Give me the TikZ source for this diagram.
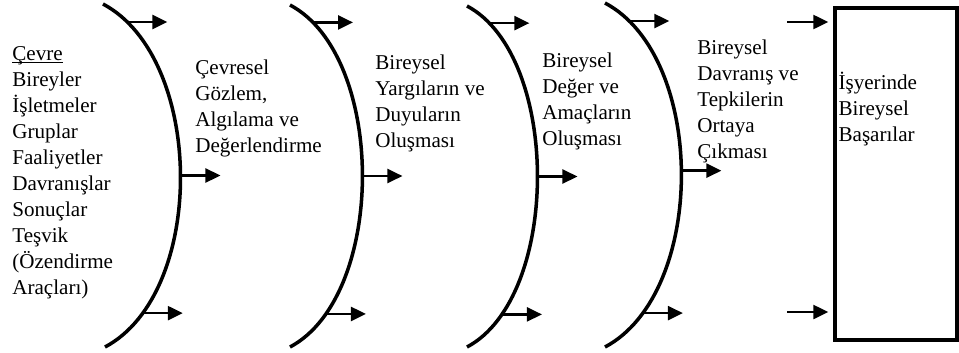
\documentclass[tikz,border=0pt]{standalone}
\usepackage{fontspec}
\setmainfont{Liberation Serif}
\usetikzlibrary{arrows.meta, positioning}

\begin{document}
\begin{tikzpicture}[
    x=0.02cm, y=0.02cm,
    yay/.style={line width=2pt},
    egri/.style={out=-28, in=28, looseness=0.86},
    ok/.style={-{Triangle[length=0.3cm, width=0.28cm]}, line width=1.4pt},
    metin/.style={anchor=north west, inner sep=0pt, align=left,
                font=\fontsize{12}{14.8}\selectfont},
    kutu/.style={rectangle, draw=black, line width=2pt,
                minimum width=2.44cm, minimum height=6.64cm},
]
\useasboundingbox (0,0) rectangle (959,-352);

% Metinler
\node[metin] (cevre) at (12,-46)
    {\underline{\raisebox{0pt}[\height][0pt]{Çevre}}\\Bireyler\\İşletmeler\\Gruplar\\Faaliyetler\\Davranışlar\\Sonuçlar\\Teşvik\\(Özendirme\\Araçları)};
\node[metin] (gozlem) at (195,-60)
    {Çevresel\\Gözlem,\\Algılama ve\\Değerlendirme};
\node[metin] (yargi) at (375,-55)
    {Bireysel\\Yargıların ve\\Duyuların\\Oluşması};
\node[metin] (deger) at (542,-53)
    {Bireysel\\Değer ve\\Amaçların\\Oluşması};
\node[metin] (davranis) at (697,-40)
    {Bireysel\\Davranış ve\\Tepkilerin\\Ortaya\\Çıkması};

% Sonuç kutusu
\node[kutu] (basari) at (896,-174) {};
\node[metin, below right=1.3cm and 0.1cm of basari.north west] (basarimetin)
    {İşyerinde\\Bireysel\\Başarılar};

% Yaylar
\coordinate (y1a) at (103,-4);
\coordinate (y1b) at (105,-347);
\coordinate (y2a) at (290,-5);
\coordinate (y2b) at (290,-347);
\coordinate (y3a) at (467,-6);
\coordinate (y3b) at (467,-347);
\coordinate (y4a) at (605,-3);
\coordinate (y4b) at (605,-347);

\draw[yay] (y1a) to[egri] coordinate[pos=0.087] (y1u) coordinate[pos=0.5] (y1m)
    coordinate[pos=0.855] (y1d) (y1b);
\draw[yay] (y2a) to[egri, looseness=0.82] coordinate[pos=0.087] (y2u) coordinate[pos=0.5] (y2m)
    coordinate[pos=0.855] (y2d) (y2b);
\draw[yay] (y3a) to[egri, looseness=0.80] coordinate[pos=0.087] (y3u) coordinate[pos=0.5] (y3m)
    coordinate[pos=0.855] (y3d) (y3b);
\draw[yay] (y4a) to[egri] coordinate[pos=0.087] (y4u) coordinate[pos=0.49] (y4m)
    coordinate[pos=0.855] (y4d) (y4b);

% Oklar
\draw[ok] (y1u) -- ++(40,0) coordinate (y1uo);
\draw[ok] (y1m) -- ++(40,0) coordinate (y1mo);
\draw[ok] (y1d) -- ++(40,0) coordinate (y1do);
\draw[ok] (y2u) -- ++(40,0) coordinate (y2uo);
\draw[ok] (y2m) -- ++(40,0) coordinate (y2mo);
\draw[ok] (y2d) -- ++(40,0) coordinate (y2do);
\draw[ok] (y3u) -- ++(40,0) coordinate (y3uo);
\draw[ok] (y3m) -- ++(40,0) coordinate (y3mo);
\draw[ok] (y3d) -- ++(40,0) coordinate (y3do);
\draw[ok] (y4u) -- ++(40,0) coordinate (y4uo);
\draw[ok] (y4m) -- ++(40,0) coordinate (y4mo);
\draw[ok] (y4d) -- ++(40,0) coordinate (y4do);

\coordinate (g1) at (787,-22);
\coordinate (g2) at (787,-312);
\draw[ok, shorten >=0.1cm] (g1) -- (g1 -| basari.west);
\draw[ok, shorten >=0.1cm] (g2) -- (g2 -| basari.west);

\end{tikzpicture}
\end{document}
